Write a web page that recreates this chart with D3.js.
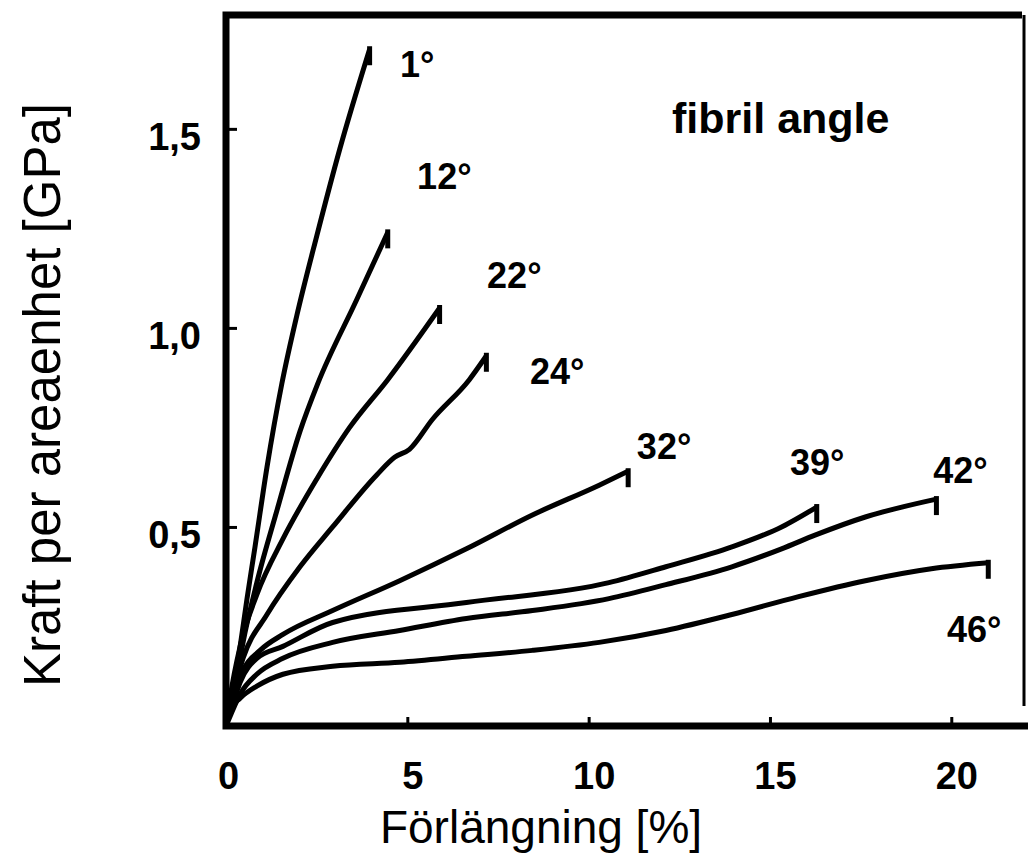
<!DOCTYPE html>
<html lang="sv">
<head>
    <meta charset="UTF-8">
    <title>Kraft per areaenhet vs förlängning</title>
    <script src="https://d3js.org/d3.v7.min.js"></script>
    <style>
        body { margin: 0; background: #fff; }
        svg { display: block; }
        text { font-family: "Liberation Sans", Arial, sans-serif; fill: #000; }
    </style>
</head>
<body>
    <div id="chart"></div>
    <script>
        // Curves: [elongation %, stress GPa]
        const angle1 = [[0,0],[0.22,0.10],[0.39,0.20],[0.58,0.32],[0.80,0.45],[1.13,0.65],[1.54,0.86],[1.95,1.03],[2.50,1.23],[3.14,1.45],[3.96,1.70]];
        const angle12 = [[0,0],[0.22,0.08],[0.47,0.21],[0.85,0.36],[1.40,0.54],[2.04,0.74],[2.53,0.86],[3.60,1.07],[4.46,1.24]];
        const angle22 = [[0,0],[0.11,0.07],[0.39,0.20],[0.85,0.33],[1.57,0.47],[2.50,0.62],[3.41,0.75],[4.46,0.87],[5.89,1.05]];
        const angle24 = [[0,0],[0.14,0.06],[0.47,0.17],[1.13,0.28],[2.04,0.40],[2.94,0.50],[4.15,0.63],[4.65,0.675],[5.06,0.695],[5.69,0.77],[6.71,0.87],[7.18,0.93]];
        const angle32 = [[0,0],[0.14,0.05],[0.47,0.14],[0.94,0.19],[1.57,0.23],[2.94,0.29],[4.79,0.365],[6.63,0.445],[8.45,0.53],[10.29,0.605],[11.09,0.64]];
        const angle39 = [[0,0],[0.14,0.04],[0.39,0.11],[0.85,0.17],[1.57,0.20],[2.94,0.26],[6.63,0.31],[10.56,0.36],[12.13,0.40],[13.95,0.45],[15.32,0.50],[16.29,0.55]];
        const angle42 = [[0,0],[0.14,0.03],[0.39,0.08],[0.85,0.13],[1.57,0.17],[2.94,0.21],[4.79,0.24],[6.63,0.27],[8.45,0.29],[10.56,0.32],[12.13,0.355],[13.95,0.40],[15.32,0.445],[16.26,0.48],[17.63,0.525],[19.59,0.57]];
        const angle46 = [[0,0],[0.11,0.04],[0.39,0.07],[0.85,0.10],[1.57,0.13],[2.94,0.15],[4.79,0.16],[6.63,0.175],[8.45,0.19],[10.29,0.21],[12.13,0.24],[13.95,0.28],[15.79,0.325],[17.63,0.365],[19.45,0.395],[21.02,0.41]];

        const curves = [angle1, angle12, angle22, angle24, angle32, angle39, angle42, angle46];
        const angleNames = ["1°", "12°", "22°", "24°", "32°", "39°", "42°", "46°"];
        // where each angle label sits, in data units
        const angleLabelAt = [[4.80,1.63],[5.27,1.35],[7.20,1.10],[8.38,0.86],[11.33,0.67],[15.55,0.63],[19.50,0.61],[19.88,0.21]];

        const xTicks = [0, 5, 10, 15, 20];
        const yTicks = [0.5, 1.0, 1.5];
        const xTitle = "Förlängning [%]";
        const yTitle = "Kraft per areaenhet [GPa]";
        const legendTitle = "fibril angle";

        const W = 1028, H = 862;
        const plotLeft = 226, plotRight = 1022, plotTop = 15, plotBottom = 726;

        const x = d3.scaleLinear().domain([0, 21.95]).range([plotLeft, plotRight]);
        const y = d3.scaleLinear().domain([0, 1.786]).range([plotBottom, plotTop]);

        const svg = d3.select("#chart").append("svg")
            .attr("width", W)
            .attr("height", H);

        svg.append("rect")
            .attr("width", W).attr("height", H)
            .attr("fill", "#fff");

        const fmt = d => d3.format(".1f")(d).replace(".", ",");

        // x axis, ticks pointing inward
        const xAxis = svg.append("g")
            .attr("transform", `translate(0,${plotBottom})`)
            .call(d3.axisBottom(x).tickValues(xTicks).tickSize(-9).tickPadding(36).tickFormat(d3.format("d")));
        xAxis.select(".domain").remove();
        xAxis.selectAll("line").attr("stroke", "#000").attr("stroke-width", 3);
        xAxis.selectAll("text")
            .attr("font-size", 38).attr("font-weight", "bold")
            .attr("dx", d => d > 0 ? 5 : 2);

        // y axis
        const yAxis = svg.append("g")
            .attr("transform", `translate(${plotLeft},0)`)
            .call(d3.axisLeft(y).tickValues(yTicks).tickSize(-11).tickPadding(25).tickFormat(fmt));
        yAxis.select(".domain").remove();
        yAxis.selectAll("line").attr("stroke", "#000").attr("stroke-width", 3);
        yAxis.selectAll("text")
            .attr("font-size", 38).attr("font-weight", "bold")
            .attr("dy", "0.55em");

        // frame
        svg.append("path")
            .attr("d", `M${plotRight},${plotTop} H${plotLeft} V${plotBottom} H${W}`)
            .attr("fill", "none").attr("stroke", "#000").attr("stroke-width", 7);
        svg.append("line")
            .attr("x1", plotRight + 2).attr("x2", plotRight + 2)
            .attr("y1", plotTop).attr("y2", plotBottom - 20)
            .attr("stroke", "#000").attr("stroke-width", 3);

        const line = d3.line()
            .x(d => x(d[0]))
            .y(d => y(d[1]))
            .curve(d3.curveMonotoneX);

        const g = svg.append("g");
        g.selectAll("path.curve")
            .data(curves)
            .join("path")
            .attr("class", "curve")
            .attr("d", line)
            .attr("fill", "none")
            .attr("stroke", "#000")
            .attr("stroke-width", 5)
            .attr("stroke-linejoin", "round");

        // short break marks at the end of every curve
        g.selectAll("line.end")
            .data(curves)
            .join("line")
            .attr("class", "end")
            .attr("x1", d => x(d[d.length - 1][0]))
            .attr("x2", d => x(d[d.length - 1][0]))
            .attr("y1", d => y(d[d.length - 1][1]) - 3)
            .attr("y2", d => y(d[d.length - 1][1]) + 16)
            .attr("stroke", "#000")
            .attr("stroke-width", 5);

        g.selectAll("text.angle")
            .data(angleNames)
            .join("text")
            .attr("class", "angle")
            .attr("x", (d, i) => x(angleLabelAt[i][0]))
            .attr("y", (d, i) => y(angleLabelAt[i][1]))
            .attr("font-size", 36)
            .attr("font-weight", "bold")
            .text(d => d);

        svg.append("text")
            .attr("x", x(12.30))
            .attr("y", y(1.49))
            .attr("font-size", 43)
            .attr("font-weight", "bold")
            .text(legendTitle);

        // axis titles
        svg.append("text")
            .attr("x", 541)
            .attr("y", 843)
            .attr("text-anchor", "middle")
            .attr("font-size", 46)
            .text(xTitle);

        svg.append("text")
            .attr("transform", "translate(60,395) rotate(-90)")
            .attr("text-anchor", "middle")
            .attr("font-size", 51)
            .text(yTitle);
    </script>
</body>
</html>
